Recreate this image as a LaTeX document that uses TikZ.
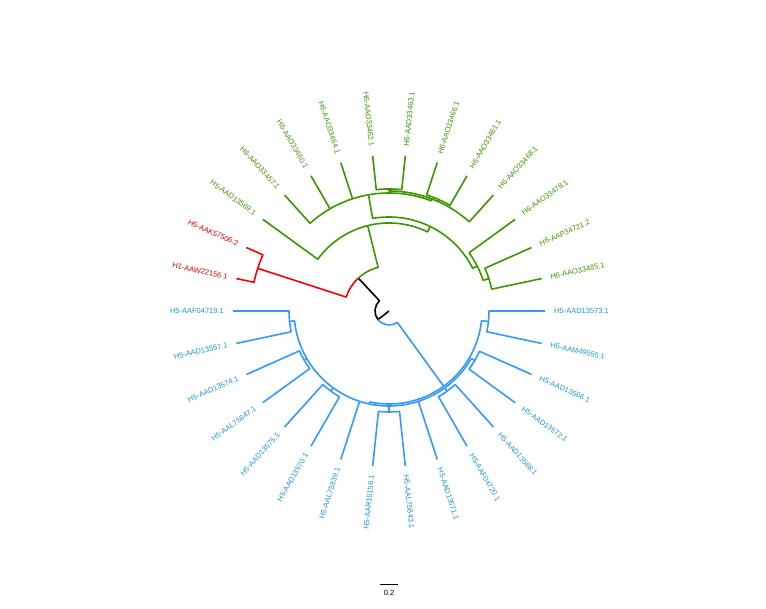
\documentclass[tikz,border=0pt]{standalone}
\usepackage{fontspec}
\setmainfont{Liberation Sans}
\definecolor{hblue}{RGB}{51,153,255}
\definecolor{hbluetxt}{RGB}{30,150,210}
\definecolor{hgreen}{RGB}{60,150,0}
\definecolor{hred}{RGB}{255,0,0}
\definecolor{hredtxt}{RGB}{220,0,0}

\begin{document}
\begin{tikzpicture}[x=1pt,y=1pt,
  edge/.style={line width=1.6pt,line join=round},
  rootedge/.style={edge,draw=black},
  redge/.style={edge,draw=hred},
  gedge/.style={edge,draw=hgreen},
  bedge/.style={edge,draw=hblue},
  lab/.style={font=\fontsize{7.5}{9}\selectfont,inner sep=0pt}]
\useasboundingbox (-389,-298) rectangle (377,311);
% root
\draw[rootedge] (0,0) -- (218:14) arc[start angle=218,end angle=133,radius=14] -- (133:45);
\draw[bedge] (218:14) arc[start angle=218,end angle=306,radius=14] -- (306:93);
% red clade
\draw[redge] (133:45) arc[start angle=133,end angle=162,radius=45] -- (162:138);
\draw[redge] (156:156) -- (156:138) arc[start angle=156,end angle=168,radius=138] -- (168:156);
% green clade
\draw[gedge] (133:45) arc[start angle=133,end angle=104,radius=45] -- (104:88);
\draw[gedge] (144:156) -- (144:88) arc[start angle=144,end angle=64,radius=88] -- (64:94);
\draw[gedge] (100:118) -- (100:94) arc[start angle=100,end angle=27,radius=94] -- (27:99);
\draw[gedge] (132:156) -- (132:118) arc[start angle=132,end angle=69,radius=118] -- (69:120);
\draw[gedge] (120:118) -- (120:156);
\draw[gedge] (108:118) -- (108:156);
\draw[gedge] (90:122) -- (90:120) arc[start angle=90,end angle=48,radius=120] -- (48:156);
\draw[gedge] (96:156) -- (96:122) arc[start angle=96,end angle=84,radius=122] -- (84:156);
\draw[gedge] (66:120) -- (66:122);
\draw[gedge] (72:156) -- (72:122) arc[start angle=72,end angle=60,radius=122] -- (60:156);
\draw[gedge] (36:156) -- (36:99) arc[start angle=36,end angle=18,radius=99] -- (18:105);
\draw[gedge] (24:156) -- (24:105) arc[start angle=24,end angle=12,radius=105] -- (12:156);
% blue clade
\draw[bedge] (-6:100) -- (-6:93) arc[start angle=-6,end angle=-102,radius=93] -- (-102:95);
\draw[bedge] (0:156) -- (0:100) arc[start angle=0,end angle=-12,radius=100] -- (-12:156);
\draw[bedge] (-30:99) -- (-30:95) arc[start angle=-30,end angle=-174,radius=95] -- (-174:100);
\draw[bedge] (-24:156) -- (-24:99) arc[start angle=-24,end angle=-36,radius=99] -- (-36:156);
\draw[bedge] (-54:95) -- (-54:99);
\draw[bedge] (-48:156) -- (-48:99) arc[start angle=-48,end angle=-60,radius=99] -- (-60:156);
\draw[bedge] (-72:95) -- (-72:156);
\draw[bedge] (-90:95) -- (-90:101);
\draw[bedge] (-84:156) -- (-84:101) arc[start angle=-84,end angle=-96,radius=101] -- (-96:156);
\draw[bedge] (-108:95) -- (-108:156);
\draw[bedge] (-126:95) -- (-126:99);
\draw[bedge] (-120:156) -- (-120:99) arc[start angle=-120,end angle=-132,radius=99] -- (-132:156);
\draw[bedge] (-150:95) -- (-150:98);
\draw[bedge] (-144:156) -- (-144:98) arc[start angle=-144,end angle=-156,radius=98] -- (-156:156);
\draw[bedge] (-168:156) -- (-168:100) arc[start angle=-168,end angle=-180,radius=100] -- (180:156);
% tip labels
\foreach \a/\t [count=\i] in {168/H1-AAW22156.1,156/H5-AAK57506.2}
  \node[lab,text=hredtxt,anchor=east,rotate=\a+180] (red\i) at (\a:165) {\t};
\foreach \a/\t [count=\i] in {144/H5-AAD13569.1,132/H6-AAO33457.1,120/H6-AAO33460.1,
    108/H6-AAO33464.1,96/H6-AAO33462.1}
  \node[lab,text=hgreen,anchor=east,rotate=\a+180] (grnl\i) at (\a:165) {\t};
\foreach \a/\t [count=\i] in {84/H6-AAO33463.1,72/H6-AAO33466.1,60/H6-AAO33461.1,
    48/H6-AAO33468.1,36/H6-AAO33478.1,24/H6-AAP34721.2,12/H6-AAO33485.1}
  \node[lab,text=hgreen,anchor=west,rotate=\a] (grnr\i) at (\a:165) {\t};
\foreach \a/\t [count=\i] in {0/H5-AAD13573.1,-12/H5-AAM49555.1,-24/H5-AAD13566.1,
    -36/H5-AAD13572.1,-48/H5-AAD13568.1,-60/H5-AAF04720.1,-72/H5-AAD13571.1,
    -84/H5-AAL75843.1}
  \node[lab,text=hbluetxt,anchor=west,rotate=\a] (blur\i) at (\a:165) {\t};
\foreach \a/\t [count=\i] in {-96/H5-AAR16156.1,-108/H5-AAL75839.1,-120/H5-AAD13570.1,
    -132/H5-AAD13575.1,-144/H5-AAL75847.1,-156/H5-AAD13574.1,-168/H5-AAD13567.1,
    180/H5-AAF04719.1}
  \node[lab,text=hbluetxt,anchor=east,rotate=\a+180] (blul\i) at (\a:165) {\t};
% scale bar
\coordinate (sbl) at (-9,-273);
\coordinate (sbr) at (9,-273);
\draw[line width=0.8pt] (sbl) -- (sbr);
\node[lab] (sbtxt) at (0,-281.5) {0.2};
\end{tikzpicture}
\end{document}
